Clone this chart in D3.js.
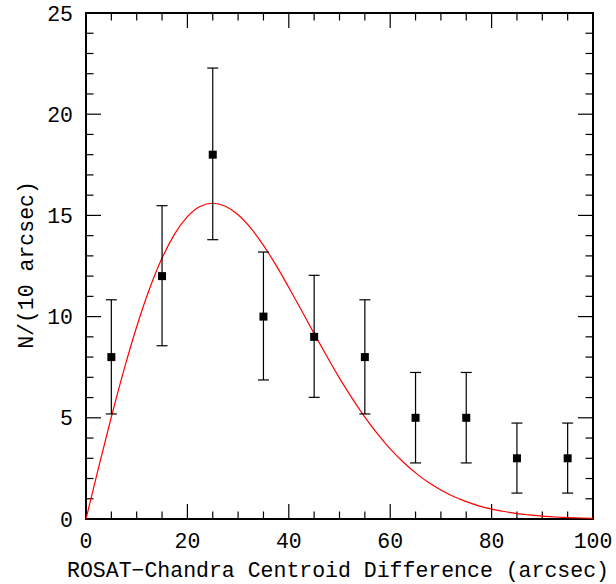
<!DOCTYPE html>
<html lang="en">
<head>
  <meta charset="UTF-8">
  <style>
    body { margin: 0; background: white; }
    svg { display: block; background: white; }
    .lbl { font-family: "Liberation Mono", monospace; font-size: 21.5px; fill: #000; }
  </style>
</head>
<body>
  <script src="https://d3js.org/d3.v7.min.js"></script>
  <svg></svg>
  <script>

// binned counts with asymmetric error bars
const binCentres = [5, 15, 25, 35, 45, 55, 65, 75, 85, 95];
const counts     = [8, 12, 18, 10, 9, 8, 5, 5, 3, 3];
const errUpper   = [10.83, 15.48, 22.28, 13.19, 12.04, 10.83, 7.24, 7.24, 4.74, 4.74];
const errLower   = [5.19, 8.56, 13.80, 6.87, 6.01, 5.19, 2.77, 2.77, 1.28, 1.28];

// red model curve
const curveX = [0, 2.5, 5, 7.5, 10, 12.5, 15, 17.5, 20, 22.5, 25, 27.5, 30, 32.5, 35, 37.5, 40,
                42.5, 45, 47.5, 50, 52.5, 55, 57.5, 60, 62.5, 65, 67.5, 70, 72.5, 75, 77.5, 80,
                82.5, 85, 87.5, 90, 92.5, 95, 97.5, 100];
const curveY = [0, 2.56, 5.04, 7.38, 9.50, 11.35, 12.89, 14.09, 14.94, 15.44, 15.60, 15.45, 15.03,
                14.37, 13.52, 12.53, 11.44, 10.31, 9.16, 8.04, 6.96, 5.96, 5.03, 4.20, 3.46, 2.83,
                2.28, 1.81, 1.43, 1.11, 0.86, 0.65, 0.49, 0.37, 0.27, 0.20, 0.14, 0.10, 0.07, 0.05, 0.03];

const xTicks = [0, 20, 40, 60, 80, 100];
const yTicks = [0, 5, 10, 15, 20, 25];

const w = 616, h = 584;
const m = {left: 86, top: 13, right: 23, bottom: 65};
const iw = w - m.left - m.right;
const ih = h - m.top - m.bottom;

const svg = d3.select("svg").attr("width", w).attr("height", h);
const g = svg.append("g").attr("transform", `translate(${m.left},${m.top})`);

const x = d3.scaleLinear().domain([0, 100]).range([0, iw]);
const y = d3.scaleLinear().domain([0, 25]).range([ih, 0]);

// inward ticks on all four sides (major long, minor short)
const xMinor = d3.range(0, 101, 5);
const yMinor = d3.range(0, 26, 1);
const bigX = v => v % 20 === 0, bigY = v => v % 5 === 0;

const ticks = g.append("g").attr("stroke", "#000").attr("stroke-width", 1.2);
xMinor.forEach(v => {
  const len = bigX(v) ? 15 : 7.5;
  ticks.append("line").attr("x1", x(v)).attr("x2", x(v)).attr("y1", ih).attr("y2", ih - len);
  ticks.append("line").attr("x1", x(v)).attr("x2", x(v)).attr("y1", 0).attr("y2", len);
});
yMinor.forEach(v => {
  const len = bigY(v) ? 15 : 7.5;
  ticks.append("line").attr("y1", y(v)).attr("y2", y(v)).attr("x1", 0).attr("x2", len);
  ticks.append("line").attr("y1", y(v)).attr("y2", y(v)).attr("x1", iw).attr("x2", iw - len);
});

// frame
g.append("rect").attr("width", iw).attr("height", ih)
  .attr("fill", "none").attr("stroke", "#000").attr("stroke-width", 2);

// tick labels
g.selectAll(".xt").data(xTicks).enter().append("text")
  .attr("class", "lbl").attr("x", d => x(d)).attr("y", ih + 29)
  .attr("text-anchor", "middle").text(d => d);

g.selectAll(".yt").data(yTicks).enter().append("text")
  .attr("class", "lbl").attr("x", -13).attr("y", d => y(d) + 7.5)
  .attr("text-anchor", "end").text(d => d);

// model curve
const line = d3.line().x(d => x(d[0])).y(d => y(d[1])).curve(d3.curveMonotoneX);
g.append("path").datum(d3.zip(curveX, curveY))
  .attr("d", line).attr("fill", "none").attr("stroke", "#ff0000").attr("stroke-width", 1.2);

// error bars
const pts = binCentres.map((c, i) => ({x: c, n: counts[i], hi: errUpper[i], lo: errLower[i]}));
const eb = g.append("g").attr("stroke", "#000").attr("stroke-width", 1.2);
pts.forEach(p => {
  eb.append("line").attr("x1", x(p.x)).attr("x2", x(p.x)).attr("y1", y(p.hi)).attr("y2", y(p.lo));
  eb.append("line").attr("x1", x(p.x) - 5.5).attr("x2", x(p.x) + 5.5).attr("y1", y(p.hi)).attr("y2", y(p.hi));
  eb.append("line").attr("x1", x(p.x) - 5.5).attr("x2", x(p.x) + 5.5).attr("y1", y(p.lo)).attr("y2", y(p.lo));
});

// square markers
g.selectAll(".pt").data(pts).enter().append("rect")
  .attr("x", d => x(d.x) - 4).attr("y", d => y(d.n) - 4)
  .attr("width", 8).attr("height", 8).attr("fill", "#000");

// axis titles
svg.append("text").attr("class", "lbl")
  .attr("x", 338).attr("y", 577).attr("text-anchor", "middle")
  .text("ROSAT\u2212Chandra Centroid Difference (arcsec)");

svg.append("text").attr("class", "lbl")
  .attr("transform", "translate(33,265) rotate(-90)")
  .attr("text-anchor", "middle")
  .text("N/(10 arcsec)");

  </script>
</body>
</html>
